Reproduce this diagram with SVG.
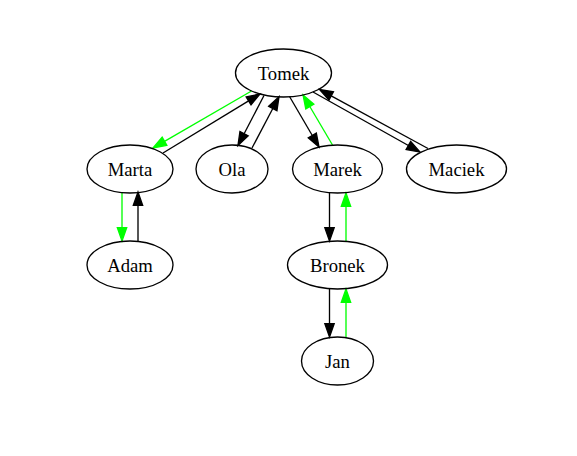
<svg xmlns="http://www.w3.org/2000/svg" width="577" height="456" viewBox="0 0 577 456">
<style>
.n ellipse{fill:none;stroke:#000;stroke-width:1.33}
.n text{font-family:"Liberation Serif","Times New Roman",serif;font-size:18.67px;text-anchor:middle;fill:#000}
.e{fill:none;stroke-width:1.33}
.k{stroke:#000;marker-end:url(#ak)}
.g{stroke:#00ff00;marker-end:url(#ag)}
</style>
<defs>
<marker id="ak" markerUnits="userSpaceOnUse" markerWidth="16" markerHeight="12" refX="0" refY="0" viewBox="-1 -6 16 12" orient="auto" overflow="visible"><path d="M0,-4.67L13.3,0L0,4.67z" fill="#000" stroke="#000" stroke-width="1.33"/></marker>
<marker id="ag" markerUnits="userSpaceOnUse" markerWidth="16" markerHeight="12" refX="0" refY="0" viewBox="-1 -6 16 12" orient="auto" overflow="visible"><path d="M0,-4.67L13.3,0L0,4.67z" fill="#00ff00" stroke="#00ff00" stroke-width="1.33"/></marker>
</defs>
<rect width="577" height="456" fill="#fff"/>
<g id="edges">
<path class="e g" d="M251.5,91L164.5,141.3"/>
<path class="e k" d="M163,153L248.6,100.9"/>
<path class="e k" d="M264,95.5L244.1,133.7"/>
<path class="e k" d="M252,148L272.8,108.5"/>
<path class="e k" d="M289.5,96.5L312.3,135.5"/>
<path class="e g" d="M332.5,145L309.8,106.5"/>
<path class="e k" d="M313,92L408.4,145.5"/>
<path class="e k" d="M428,148.5L331.2,95.9"/>
<path class="e g" d="M122,192L122,227.7"/>
<path class="e k" d="M138,241L138,205.3"/>
<path class="e k" d="M329.5,193L329.5,227.7"/>
<path class="e g" d="M346,241L346,206.3"/>
<path class="e k" d="M329.5,289L329.5,323.7"/>
<path class="e g" d="M346,337L346,302.3"/>
</g>
<g id="Tomek" class="n"><ellipse cx="283.5" cy="73" rx="48" ry="24"/><text x="283.5" y="79.5">Tomek</text></g>
<g id="Marta" class="n"><ellipse cx="130" cy="169" rx="43" ry="24"/><text x="130" y="175.5">Marta</text></g>
<g id="Ola" class="n"><ellipse cx="232" cy="169" rx="36" ry="24"/><text x="232" y="175.5">Ola</text></g>
<g id="Marek" class="n"><ellipse cx="337.5" cy="169" rx="45" ry="24"/><text x="337.5" y="175.5">Marek</text></g>
<g id="Maciek" class="n"><ellipse cx="456.5" cy="169" rx="50" ry="24"/><text x="456.5" y="175.5">Maciek</text></g>
<g id="Adam" class="n"><ellipse cx="130" cy="265" rx="43" ry="24"/><text x="130" y="271.5">Adam</text></g>
<g id="Bronek" class="n"><ellipse cx="337.5" cy="265" rx="50" ry="24"/><text x="337.5" y="271.5">Bronek</text></g>
<g id="Jan" class="n"><ellipse cx="337.5" cy="361" rx="36" ry="24"/><text x="337.5" y="367.5">Jan</text></g>
</svg>
